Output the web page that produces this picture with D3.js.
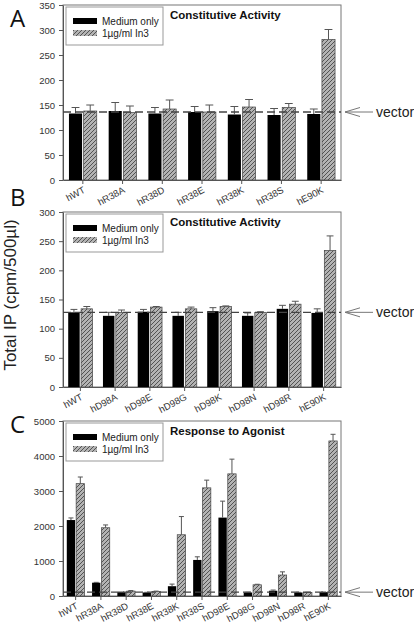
<!DOCTYPE html>
<html><head><meta charset="utf-8">
<script src="https://cdn.jsdelivr.net/npm/d3@7"></script>
<style>
html,body{margin:0;padding:0;background:#fff;}
svg{display:block;font-family:"Liberation Sans",Arial,sans-serif;}
</style></head>
<body>
<svg id="chart" width="414" height="623"></svg>
<script>
// ---- Data ----
const catsA = ["hWT","hR38A","hR38D","hR38E","hR38K","hR38S","hE90K"];
const medA = [133,138,133,136,131,130,132];
const medErrA = [12,17,12,11,16,13,10];
const in3A = [138,135,142,136,146,145,281];
const in3ErrA = [12,13,18,14,15,8,20];
const vectorA = 136;
const ticksA = [0,50,100,150,200,250,300,350];

const catsB = ["hWT","hD98A","hD98E","hD98G","hD98K","hD98N","hD98R","hE90K"];
const medB = [128,122,129,122,130,122,134,127];
const medErrB = [5,6,4,6,6,5,6,7];
const in3B = [134,128,137,134,138,128,142,234];
const in3ErrB = [4,4,1,3,1,1,5,25];
const vectorB = 128;
const ticksB = [0,50,100,150,200,250,300];

const catsC = ["hWT","hR38A","hR38D","hR38E","hR38K","hR38S","hD98E","hD98G","hD98N","hD98R","hE90K"];
const medC = [2170,380,110,100,280,1030,2240,100,150,100,110];
const medErrC = [60,10,5,5,60,90,470,5,20,5,5];
const in3C = [3210,1950,140,130,1750,3090,3490,320,600,100,4430];
const in3ErrC = [190,80,15,10,520,220,420,15,90,5,190];
const vectorC = 110;
const ticksC = [0,1000,2000,3000,4000,5000];

const legendLabels = ["Medium only","1\u00b5g/ml In3"];

// ---- Drawing ----
const svg = d3.select("#chart");
const defs = svg.append("defs");
const pat = defs.append("pattern").attr("id","hatch").attr("patternUnits","userSpaceOnUse")
  .attr("width",4).attr("height",4);
pat.append("rect").attr("width",4).attr("height",4).attr("fill","#b3b3b3");
pat.append("path").attr("d","M-1,1 l2,-2 M0,4 l4,-4 M3,5 l2,-2")
  .attr("stroke","#3a3a3a").attr("stroke-width",0.8);

const X0 = 63, X1 = 341;

function panel(o){
  const g = svg.append("g");
  const x = d3.scaleBand().domain(o.cats).range([X0, X1]).padding(0);
  const y = d3.scaleLinear().domain([0, o.max]).range([o.bottom, o.top]);
  const bw = x.bandwidth()*0.33, gap = x.bandwidth()*0.04;

  g.append("rect").attr("x",X0).attr("y",o.top).attr("width",X1-X0).attr("height",o.bottom-o.top)
    .attr("fill","none").attr("stroke","#777").attr("stroke-width",1);

  const data = o.cats.map((c,i)=>({c, m:o.med[i], me:o.medErr[i], t:o.in3[i], te:o.in3Err[i]}));
  const grp = g.selectAll("g.grp").data(data).join("g");
  const cx = d => x(d.c) + x.bandwidth()/2;
  grp.append("rect").attr("x",d=>cx(d)-gap/2-bw).attr("y",d=>y(d.m)).attr("width",bw)
    .attr("height",d=>o.bottom-y(d.m)).attr("fill","#000");
  grp.append("rect").attr("x",d=>cx(d)+gap/2).attr("y",d=>y(d.t)).attr("width",bw)
    .attr("height",d=>o.bottom-y(d.t)).attr("fill","url(#hatch)").attr("stroke","#444").attr("stroke-width",0.7);
  const err = (xc, v, e) => {
    grp.append("path").attr("d",d=>{
      const xx = xc(d), yb = y(v(d)), yt = y(v(d)+e(d)), cw = bw*0.3;
      return `M${xx},${yb}V${yt}M${xx-cw},${yt}H${xx+cw}`;
    }).attr("stroke","#555").attr("stroke-width",1).attr("fill","none");
  };
  err(d=>cx(d)-gap/2-bw/2, d=>d.m, d=>d.me);
  err(d=>cx(d)+gap/2+bw/2, d=>d.t, d=>d.te);

  const ya = g.append("g").attr("transform",`translate(${X0},0)`)
    .call(d3.axisLeft(y).tickValues(o.ticks).tickFormat(d3.format("d")).tickSize(4).tickPadding(4).tickSizeOuter(0));
  ya.select(".domain").attr("stroke","#555");
  ya.selectAll(".tick line").attr("stroke","#555");
  ya.selectAll("text").attr("font-size",9.5).attr("fill","#333").attr("font-family","Liberation Sans, Arial, sans-serif");

  const xa = g.append("g").attr("transform",`translate(0,${o.bottom})`)
    .call(d3.axisBottom(x).tickSize(4).tickSizeOuter(0));
  xa.select(".domain").attr("stroke","#555");
  xa.selectAll(".tick line").attr("stroke","#555");
  xa.selectAll("text").attr("font-size",9.5).attr("fill","#333")
    .attr("font-family","Liberation Sans, Arial, sans-serif")
    .attr("x",0).attr("y",0).attr("dy",0)
    .attr("text-anchor","end")
    .attr("transform","translate(3,12) rotate(-28)");

  const vy = y(o.vector);
  g.append("line").attr("x1",X0).attr("x2",X1).attr("y1",vy).attr("y2",vy)
    .attr("stroke","#444").attr("stroke-width",1.4).attr("stroke-dasharray","8,4");
  g.append("path").attr("d",`M360,${vy-4.5}L345,${vy}L360,${vy+4.5}M345,${vy}H373`)
    .attr("stroke","#777").attr("stroke-width",1).attr("fill","none");
  g.append("text").attr("x",376).attr("y",vy+4.5).text("vector")
    .attr("font-size",14).attr("fill","#222");

  g.append("text").attr("x",170).attr("y",o.top+14).text(o.title)
    .attr("font-size",11.5).attr("font-weight","bold").attr("fill","#111");

  const lx = 66, ly = o.top+2;
  g.append("rect").attr("x",lx).attr("y",ly).attr("width",97).attr("height",38)
    .attr("fill","#fff").attr("stroke","#999").attr("stroke-width",1);
  g.append("rect").attr("x",lx+7).attr("y",ly+11).attr("width",24).attr("height",6).attr("fill","#000");
  g.append("rect").attr("x",lx+7).attr("y",ly+23).attr("width",24).attr("height",6).attr("fill","url(#hatch)");
  g.append("text").attr("x",lx+36).attr("y",ly+18).text(legendLabels[0]).attr("font-size",10).attr("fill","#222");
  g.append("text").attr("x",lx+36).attr("y",ly+30).text(legendLabels[1]).attr("font-size",10).attr("fill","#222");

  svg.append("text").attr("x",10).attr("y",o.letterY).text(o.letter)
    .attr("font-family","Open Sans, Noto Sans, sans-serif").attr("font-size",24).attr("fill","#111");
}

panel({cats:catsA, med:medA, medErr:medErrA, in3:in3A, in3Err:in3ErrA, vector:vectorA,
  ticks:ticksA, max:350, top:5, bottom:180, title:"Constitutive Activity", letter:"A", letterY:27});
panel({cats:catsB, med:medB, medErr:medErrB, in3:in3B, in3Err:in3ErrB, vector:vectorB,
  ticks:ticksB, max:300, top:212, bottom:387, title:"Constitutive Activity", letter:"B", letterY:206});
panel({cats:catsC, med:medC, medErr:medErrC, in3:in3C, in3Err:in3ErrC, vector:vectorC,
  ticks:ticksC, max:5000, top:421, bottom:596, title:"Response to Agonist", letter:"C", letterY:433});

svg.append("text").attr("transform","translate(16,295) rotate(-90)")
  .attr("text-anchor","middle").attr("font-size",17).attr("fill","#222")
  .text("Total IP (cpm/500\u00b5l)");
</script>
</body></html>
